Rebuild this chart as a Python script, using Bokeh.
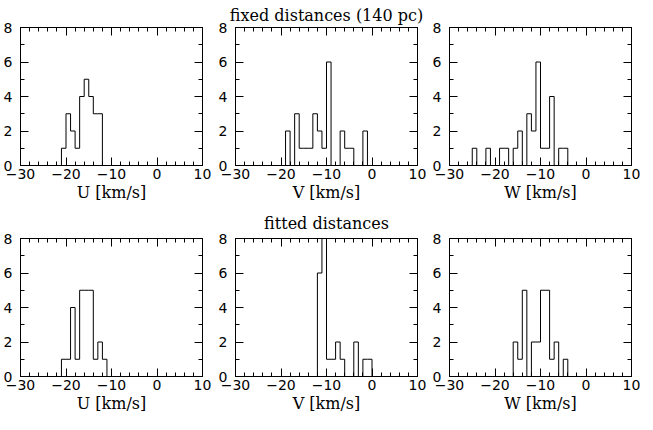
from bokeh.plotting import figure
from bokeh.models import FixedTicker, LinearAxis, Range1d
from bokeh.layouts import column, row
from bokeh.embed import file_html
from bokeh.resources import INLINE

# ---- data: 1 km/s bins, left edges -26 ... -1 (edges -26 ... 0) ----
bin_edges = [-26, -25, -24, -23, -22, -21, -20, -19, -18, -17, -16, -15, -14,
             -13, -12, -11, -10, -9, -8, -7, -6, -5, -4, -3, -2, -1, 0]

u_fixed = [0, 0, 0, 0, 0, 1, 3, 2, 1, 4, 5, 4, 3, 3, 0, 0, 0, 0, 0, 0, 0, 0, 0, 0, 0, 0]
v_fixed = [0, 0, 0, 0, 0, 0, 0, 2, 0, 3, 1, 1, 1, 3, 2, 1, 6, 0, 0, 2, 1, 1, 0, 0, 2, 0]
w_fixed = [0, 1, 0, 0, 1, 0, 0, 1, 1, 0, 1, 2, 0, 3, 2, 6, 1, 1, 4, 0, 1, 1, 0, 0, 0, 0]

u_fitted = [0, 0, 0, 0, 0, 1, 1, 4, 1, 5, 5, 5, 1, 2, 1, 0, 0, 0, 0, 0, 0, 0, 0, 0, 0, 0]
v_fitted = [0, 0, 0, 0, 0, 0, 0, 0, 0, 0, 0, 0, 0, 0, 6, 11, 1, 1, 2, 1, 0, 0, 2, 0, 1, 1]
w_fitted = [0, 0, 0, 0, 0, 0, 0, 0, 0, 0, 2, 1, 5, 0, 2, 2, 5, 5, 1, 2, 0, 1, 0, 0, 0, 0]

x_labels = ["U [km/s]", "V [km/s]", "W [km/s]"]
row_titles = ["fixed distances (140 pc)", "fitted distances"]

x_major = [-30, -20, -10, 0, 10]
x_minor = [-30, -28, -26, -24, -22, -20, -18, -16, -14, -12, -10, -8, -6, -4, -2,
           0, 2, 4, 6, 8, 10]
x_tick_text = {-30: "\u221230", -20: "\u221220", -10: "\u221210", 0: "0", 10: "10"}
y_major = [0, 2, 4, 6, 8]
y_minor = [1, 3, 5, 7]
y_tick_text = {0: "0", 2: "2", 4: "4", 6: "6", 8: "8"}

NUM_FONT = "DejaVu Sans"
TXT_FONT = "DejaVu Serif"

FRAME_H = 138
FRAME_W = 182


def style_axis(ax, labels=True, overrides=None):
    ax.axis_line_color = "black"
    ax.major_tick_line_color = "black"
    ax.minor_tick_line_color = "black"
    ax.major_tick_in = 8
    ax.major_tick_out = 0
    ax.minor_tick_in = 4
    ax.minor_tick_out = 0
    if labels:
        ax.major_label_text_font = NUM_FONT
        ax.major_label_text_font_size = "14px"
        ax.major_label_text_color = "black"
        ax.major_label_text_line_height = 1.0
        if overrides:
            ax.major_label_overrides = overrides
    else:
        ax.major_label_text_font_size = "1px"
        ax.major_label_text_color = None
        ax.major_label_standoff = 0


def panel(counts, xlabel, bl, br, bt, bb, title=None, tstand=8, toff=-5):
    p = figure(frame_width=FRAME_W, frame_height=FRAME_H, x_range=Range1d(-30, 10),
               y_range=Range1d(0, 8), output_backend="svg",
               toolbar_location=None, min_border_left=bl, min_border_right=br,
               min_border_top=bt, min_border_bottom=bb)
    p.xgrid.visible = False
    p.ygrid.visible = False
    p.outline_line_color = "black"
    p.background_fill_color = "white"
    p.border_fill_color = "white"

    xt = FixedTicker(ticks=x_major, minor_ticks=x_minor)
    yt = FixedTicker(ticks=y_major, minor_ticks=y_minor)

    xa = p.xaxis[0]
    xa.ticker = xt
    style_axis(xa, True, x_tick_text)
    xa.major_label_standoff = 3
    xa.axis_label = xlabel
    xa.axis_label_text_font = TXT_FONT
    xa.axis_label_text_font_style = "normal"
    xa.axis_label_text_font_size = "16px"
    xa.axis_label_text_color = "black"
    xa.axis_label_text_line_height = 1.0
    xa.axis_label_standoff = 1

    ya = p.yaxis[0]
    ya.ticker = yt
    style_axis(ya, True, y_tick_text)
    ya.major_label_standoff = 8

    top = LinearAxis(ticker=xt)
    style_axis(top, False)
    p.add_layout(top, "above")
    right = LinearAxis(ticker=yt)
    style_axis(right, False)
    p.add_layout(right, "right")

    if title:
        p.title.text = title
        p.title.align = "center"
        p.title.text_font = TXT_FONT
        p.title.text_font_style = "normal"
        p.title.text_font_size = "16px"
        p.title.text_color = "black"
        p.title.text_line_height = 1.0
        p.title.offset = toff
        p.title.standoff = tstand

    xs = [bin_edges[0]] + bin_edges
    ys = [0] + counts + [0]
    p.step(x=xs, y=ys, mode="after", line_color="black", line_width=1)
    return p


cols = [(19, 13), (19, 12), (17, 11)]

top_data = [u_fixed, v_fixed, w_fixed]
bot_data = [u_fitted, v_fitted, w_fitted]

top_figs = []
bot_figs = []
for i in range(3):
    bl, br = cols[i]
    top_figs.append(panel(top_data[i], x_labels[i], bl, br, 26, 38,
                          row_titles[0] if i == 1 else None, 6, -5))
    bot_figs.append(panel(bot_data[i], x_labels[i], bl, br, 34, 38,
                          row_titles[1] if i == 1 else None, 12, -3))

layout = column(row(*top_figs, spacing=0), row(*bot_figs, spacing=0), spacing=0)

open("out.html", "w").write(file_html(layout, INLINE))
